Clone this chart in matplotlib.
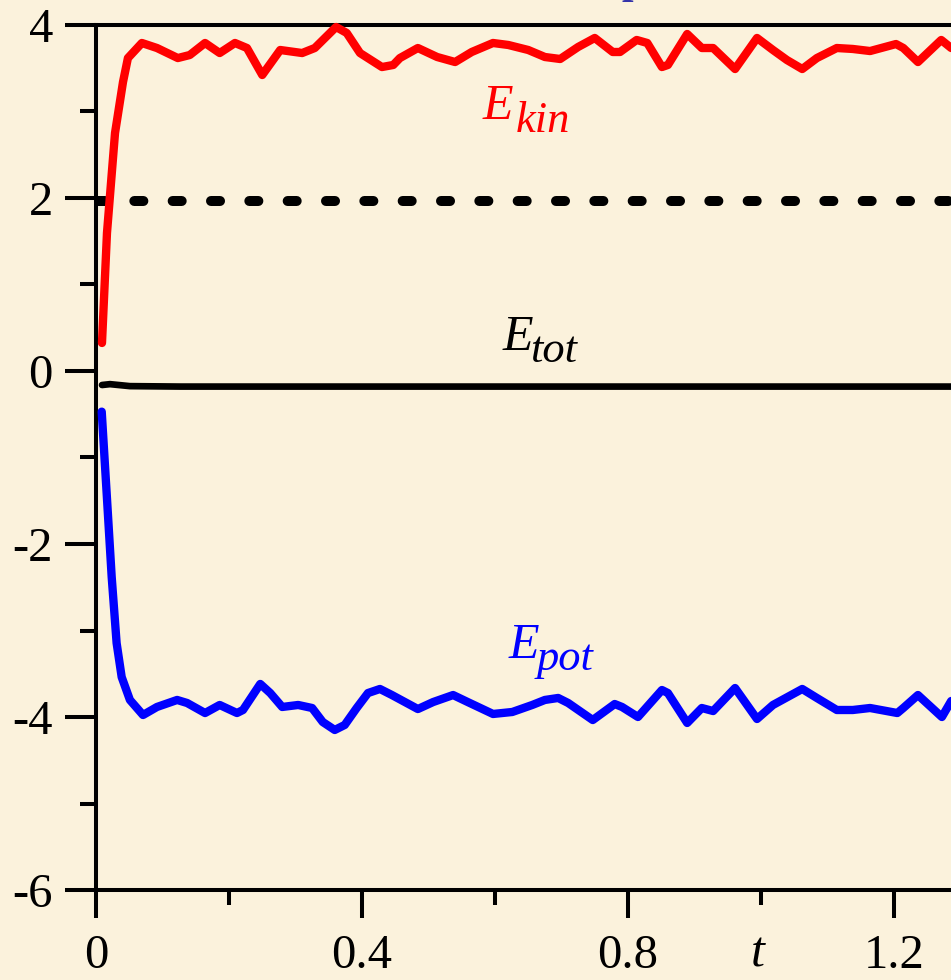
import matplotlib
matplotlib.use("Agg")
import matplotlib.pyplot as plt
from matplotlib.ticker import FixedLocator, FixedFormatter

# ---------------- data ----------------
t_kin = [0.009, 0.0165, 0.0286, 0.0406, 0.048, 0.069, 0.0917, 0.123, 0.141, 0.164,
         0.186, 0.209, 0.227, 0.250, 0.277, 0.310, 0.329, 0.361, 0.377, 0.397,
         0.430, 0.447, 0.457, 0.484, 0.513, 0.540, 0.565, 0.597, 0.620, 0.650,
         0.675, 0.698, 0.725, 0.750, 0.777, 0.788, 0.813, 0.829, 0.851, 0.860,
         0.889, 0.911, 0.928, 0.961, 0.994, 1.018, 1.039, 1.062, 1.084, 1.114,
         1.138, 1.164, 1.203, 1.214, 1.236, 1.271, 1.286]
e_kin = [0.324, 1.595, 2.751, 3.341, 3.618, 3.792, 3.734, 3.618, 3.653, 3.792,
         3.676, 3.792, 3.734, 3.422, 3.711, 3.676, 3.734, 3.977, 3.908, 3.676,
         3.514, 3.538, 3.618, 3.734, 3.630, 3.572, 3.688, 3.792, 3.769, 3.711,
         3.630, 3.607, 3.746, 3.850, 3.688, 3.688, 3.827, 3.792, 3.514, 3.538,
         3.896, 3.734, 3.734, 3.491, 3.850, 3.711, 3.595, 3.491, 3.618, 3.734,
         3.723, 3.699, 3.780, 3.734, 3.572, 3.827, 3.734]

t_pot = [0.0086, 0.016, 0.0236, 0.031, 0.0386, 0.051, 0.0707, 0.0917, 0.122, 0.137,
         0.164, 0.186, 0.212, 0.221, 0.247, 0.262, 0.280, 0.304, 0.325, 0.341,
         0.359, 0.374, 0.392, 0.409, 0.427, 0.445, 0.484, 0.507, 0.537, 0.559,
         0.597, 0.626, 0.656, 0.675, 0.695, 0.710, 0.747, 0.780, 0.791, 0.815,
         0.851, 0.860, 0.889, 0.911, 0.928, 0.961, 0.994, 1.018, 1.062, 1.084,
         1.114, 1.138, 1.164, 1.205, 1.214, 1.236, 1.272, 1.286]
e_pot = [-0.470, -1.410, -2.382, -3.145, -3.538, -3.803, -3.977, -3.884, -3.803, -3.838,
         -3.954, -3.861, -3.954, -3.919, -3.618, -3.723, -3.884, -3.861, -3.896, -4.058,
         -4.150, -4.092, -3.896, -3.723, -3.676, -3.746, -3.908, -3.827, -3.746, -3.827,
         -3.965, -3.942, -3.861, -3.803, -3.780, -3.838, -4.035, -3.850, -3.884, -4.000,
         -3.688, -3.723, -4.069, -3.896, -3.931, -3.665, -4.023, -3.861, -3.676, -3.780,
         -3.919, -3.919, -3.896, -3.954, -3.896, -3.746, -4.000, -3.815]

t_tot = [0.009, 0.021, 0.051, 0.127, 0.5, 1.0, 1.286]
e_tot = [-0.162, -0.152, -0.175, -0.180, -0.180, -0.180, -0.180]

ref_level = 1.96
ref_t = [0.0, 1.286]

x_ticks = [0.0, 0.4, 0.8, 1.2]
x_tick_labels = ["0", "0.4", "0.8", "1.2"]
x_minor = [0.2, 0.6, 1.0]
y_ticks = [4, 2, 0, -2, -4, -6]
y_tick_labels = ["4", "2", "0", "-2", "-4", "-6"]
y_minor = [3, 1, -1, -3, -5]

# ---------------- style ----------------
plt.rcParams["font.family"] = ["Liberation Serif", "DejaVu Serif"]
plt.rcParams["axes.unicode_minus"] = False
plt.rcParams["lines.scale_dashes"] = False

bg = "#FBF2DC"
W, H = 951, 980
fig = plt.figure(figsize=(W / 100, H / 100), dpi=100, facecolor=bg)

x0, x1 = 0.0, 1.2857
ax = fig.add_axes([96 / W, (H - 890) / H, (W - 96) / W, 865 / H], facecolor=bg)
ax.set_xlim(x0, x1)
ax.set_ylim(-6, 4)

# reference dashed line
ax.plot(ref_t, [ref_level, ref_level], color="black", lw=7.2,
        dashes=(6.5, 21.1), dash_capstyle="round", zorder=2)
# total energy
ax.plot(t_tot, e_tot, color="black", lw=4.8, solid_capstyle="round",
        solid_joinstyle="round", zorder=3)
# kinetic / potential
ax.plot(t_kin, e_kin, color="#FF0000", lw=6.0, solid_capstyle="round",
        solid_joinstyle="round", zorder=4, clip_on=False)
ax.plot(t_pot, e_pot, color="#0000FF", lw=6.0, solid_capstyle="round",
        solid_joinstyle="round", zorder=4, clip_on=False)

# spines
for s in ["left", "bottom", "top"]:
    ax.spines[s].set_linewidth(2.9)
    ax.spines[s].set_color("black")
ax.spines["right"].set_visible(False)

ax.xaxis.set_major_locator(FixedLocator(x_ticks))
ax.xaxis.set_major_formatter(FixedFormatter(x_tick_labels))
ax.xaxis.set_minor_locator(FixedLocator(x_minor))
ax.yaxis.set_major_locator(FixedLocator(y_ticks))
ax.yaxis.set_major_formatter(FixedFormatter(y_tick_labels))
ax.yaxis.set_minor_locator(FixedLocator(y_minor))

ax.tick_params(axis="x", which="major", direction="out", length=20, width=2.9,
               labelsize=35, pad=12, top=False)
ax.tick_params(axis="x", which="minor", direction="out", length=10.8, width=2.9, top=False)
ax.tick_params(axis="y", which="major", direction="out", length=22, width=2.9,
               labelsize=35, pad=9, right=False)
ax.tick_params(axis="y", which="minor", direction="out", length=11.5, width=2.9, right=False)

# labels
def px2data(px, py):
    return ((px - 96) / 665.0, (371 - py) / 86.5)

lab_kw = dict(style="italic", ha="left", va="baseline", zorder=5)
for (main_px, sub_px, sub, col) in [
    ((483, 119.5), (516, 131.7), "kin", "#FF0000"),
    ((503, 350.0), (530, 362.5), "tot", "black"),
    ((509, 658.3), (537, 670.0), "pot", "#0000FF"),
]:
    ax.text(*px2data(*main_px), "E", color=col, fontsize=36, **lab_kw)
    ax.text(*px2data(*sub_px), sub, color=col, fontsize=32, **lab_kw)

# axis label t
ax.text(*px2data(758, 966), "t", color="black", fontsize=36, style="italic",
        ha="center", va="baseline", clip_on=False)

# fragment of the title descender above the frame
fig.text(621 / W, 1 + 7 / H, "p", color="#3333AA", fontsize=30, fontweight="bold",
         ha="left", va="baseline")

fig.savefig("out.png", dpi=100, facecolor=bg)
